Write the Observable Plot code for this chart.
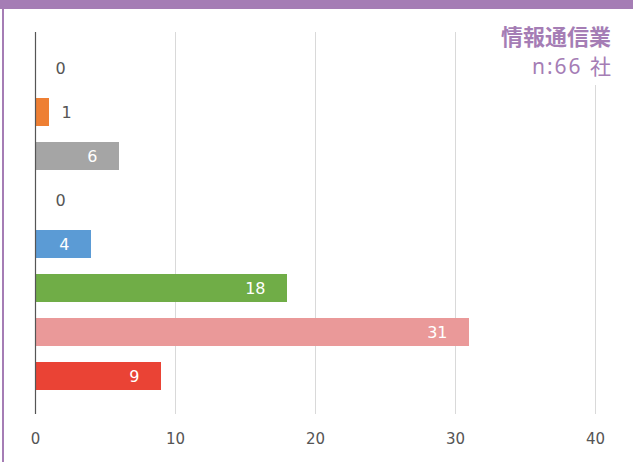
<!DOCTYPE html>
<html>
<head>
<meta charset="utf-8">
<script src="https://cdn.jsdelivr.net/npm/d3@7"></script>
<script src="https://cdn.jsdelivr.net/npm/@observablehq/plot@0.6"></script>
<style>
  html, body { margin: 0; padding: 0; background: #fff; }
  #wrap { position: relative; width: 633px; height: 462px; overflow: hidden; font-family: "DejaVu Sans", sans-serif; }
  #topband { position: absolute; left: 0; top: 0; width: 633px; height: 9px; background: #a57db5; }
  #leftline { position: absolute; left: 2px; top: 0; width: 2px; height: 462px; background: #a57db5; }
  #title { position: absolute; right: 22px; top: 20px; width: 130px; height: 65px; background: #fff; text-align: right; color: #a57db5; font-family: "Noto Sans CJK JP", sans-serif; }
  #title .t1 { font-size: 22px; font-weight: 700; line-height: 30px; }
  #title .t2 { font-size: 21px; font-weight: 400; line-height: 30px; }
  #title .t2 .n { font-family: "Noto Sans", sans-serif; font-weight: 400; font-size: 21px; letter-spacing: 2px; }
  #chart { position: absolute; left: 0; top: 0; }
</style>
</head>
<body>
<div id="wrap">
  <div id="chart"></div>
  <div id="topband"></div>
  <div id="leftline"></div>
  <div id="title"><div class="t1">情報通信業</div><div class="t2"><span class="n">n:66 </span>社</div></div>
</div>
<script>
const rows = [0, 1, 2, 3, 4, 5, 6, 7];
const values = [0, 1, 6, 0, 4, 18, 31, 9];
const colors = ["#ee7f33", "#ee7f33", "#a5a5a5", "#5b9bd5", "#5b9bd5", "#70ad47", "#ea9999", "#ea4335"];
const xTicks = [0, 10, 20, 30, 40];

const data = rows.map((r, i) => ({row: r, value: values[i], color: colors[i]}));

const chart = Plot.plot({
  width: 633,
  height: 462,
  marginLeft: 35,
  marginRight: 38,
  marginTop: 32,
  marginBottom: 48,
  style: {fontFamily: "'DejaVu Sans', sans-serif", background: "transparent"},
  x: {domain: [0, 40], ticks: xTicks, tickSize: 0, grid: true, label: null},
  y: {domain: rows, range: [30.5, 414], paddingInner: 0.36, paddingOuter: 0.47, axis: null},
  marks: [
    Plot.gridX(xTicks, {stroke: "#d9d9d9", strokeOpacity: 1}),
    Plot.axisX({ticks: xTicks, tickSize: 0, tickPadding: 19, fontSize: 15, fill: "#555", label: null}),
    Plot.barX(data, {x: "value", y: "row", fill: "color"}),
    Plot.ruleX([0], {stroke: "#555", strokeWidth: 1.2}),
    Plot.text(data.filter(d => d.value === 0), {x: "value", y: "row", text: d => String(d.value), textAnchor: "start", dx: 20, fill: "#555", fontSize: 16}),
    Plot.text(data.filter(d => d.value > 0 && d.value < 3), {x: "value", y: "row", text: d => String(d.value), textAnchor: "start", dx: 12, fill: "#555", fontSize: 16}),
    Plot.text(data.filter(d => d.value >= 3), {x: "value", y: "row", text: d => String(d.value), textAnchor: "end", dx: -22, fill: "#fff", fontSize: 16})
  ]
});
document.getElementById("chart").appendChild(chart);
</script>
</body>
</html>
